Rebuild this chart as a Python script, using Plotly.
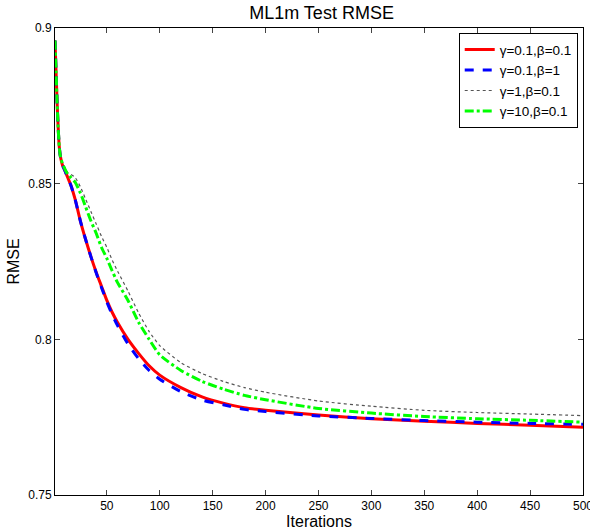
import plotly.graph_objects as go

iters = [1, 2, 3, 4, 5, 6, 8, 10, 13, 16, 20, 25, 30, 35, 40, 45, 50, 55, 60, 70, 80, 90,
         100, 120, 140, 160, 180, 200, 250, 300, 350, 400, 450, 500]

red = [0.896, 0.886, 0.876, 0.868, 0.862, 0.859, 0.856, 0.8545, 0.852, 0.8495, 0.845, 0.838,
       0.832, 0.8265, 0.8215, 0.817, 0.8125, 0.8087, 0.8055, 0.800, 0.7955, 0.7915,
       0.7885, 0.7845, 0.7815, 0.7795, 0.778, 0.7772, 0.7757, 0.7745, 0.7737, 0.773, 0.7724, 0.7718]
blue = [0.896, 0.886, 0.876, 0.868, 0.862, 0.859, 0.856, 0.8545, 0.852, 0.8495, 0.845, 0.838,
        0.832, 0.8265, 0.8213, 0.8166, 0.812, 0.808, 0.8045, 0.7985, 0.7938, 0.790,
        0.7872, 0.7832, 0.7805, 0.779, 0.7775, 0.7768, 0.7754, 0.7746, 0.7739, 0.7734, 0.773, 0.7727]
black = [0.896, 0.886, 0.876, 0.868, 0.862, 0.859, 0.857, 0.8555, 0.8535, 0.853, 0.852, 0.849,
         0.845, 0.841, 0.837, 0.833, 0.8295, 0.8255, 0.822, 0.8155, 0.8085, 0.8025,
         0.798, 0.7925, 0.789, 0.7865, 0.7845, 0.783, 0.7802, 0.7785, 0.7772, 0.7765, 0.776, 0.7755]
green = [0.896, 0.886, 0.876, 0.868, 0.862, 0.859, 0.8565, 0.855, 0.853, 0.852, 0.8505, 0.847,
         0.8425, 0.838, 0.834, 0.8295, 0.826, 0.822, 0.8183, 0.8125, 0.8055, 0.800,
         0.795, 0.790, 0.7865, 0.784, 0.782, 0.7806, 0.7778, 0.7763, 0.7752, 0.7745, 0.774, 0.7734]

names = ["γ=0.1,β=0.1", "γ=0.1,β=1", "γ=1,β=0.1", "γ=10,β=0.1"]
series = [red, blue, black, green]
colors = ["#ff0000", "#0000ff", "#555555", "#00ff00"]
dashes = ["solid", "dash", "dot", "dashdot"]
widths = [3, 3, 1.2, 3]

xticks = [50, 100, 150, 200, 250, 300, 350, 400, 450, 500]
yticks = [0.75, 0.8, 0.85, 0.9]

fig = go.Figure()
for n, s, c, d, w in zip(names, series, colors, dashes, widths):
    fig.add_trace(go.Scatter(x=iters, y=s, name=n, mode="lines",
                             line=dict(color=c, dash=d, width=w, shape="spline", smoothing=0.6)))

font = "Liberation Sans, Arial, sans-serif"
fig.update_layout(
    template="none",
    width=590, height=531,
    margin=dict(l=55, r=7, t=28, b=36, autoexpand=False),
    paper_bgcolor="white", plot_bgcolor="white",
    font=dict(family=font, size=12, color="black"),
    title=dict(text="ML1m Test RMSE", x=0.545, xanchor="center", y=0.977, yanchor="middle",
               font=dict(size=18, family=font)),
    showlegend=True,
    legend=dict(x=0.99, y=0.989, xanchor="right", yanchor="top",
                bgcolor="white", bordercolor="black", borderwidth=1,
                font=dict(size=13.5, family=font), tracegroupgap=0, itemwidth=30),
)
fig.update_xaxes(range=[1, 500], tickvals=xticks, ticks="inside", ticklen=5,
                 showline=True, linecolor="black", linewidth=1, mirror="ticks",
                 showgrid=False, zeroline=False, ticklabeloverflow="allow", automargin=False,
                 title=dict(text="Iterations", font=dict(size=16), standoff=2))
fig.update_yaxes(range=[0.75, 0.9], tickvals=yticks, ticks="inside", ticklen=5,
                 showline=True, linecolor="black", linewidth=1, mirror="ticks",
                 showgrid=False, zeroline=False, automargin=False,
                 title=dict(text="RMSE", font=dict(size=16), standoff=4))

fig.write_html("out.html", config={"displayModeBar": False},
               post_script="document.body.style.margin='0';document.body.style.padding='0';")
